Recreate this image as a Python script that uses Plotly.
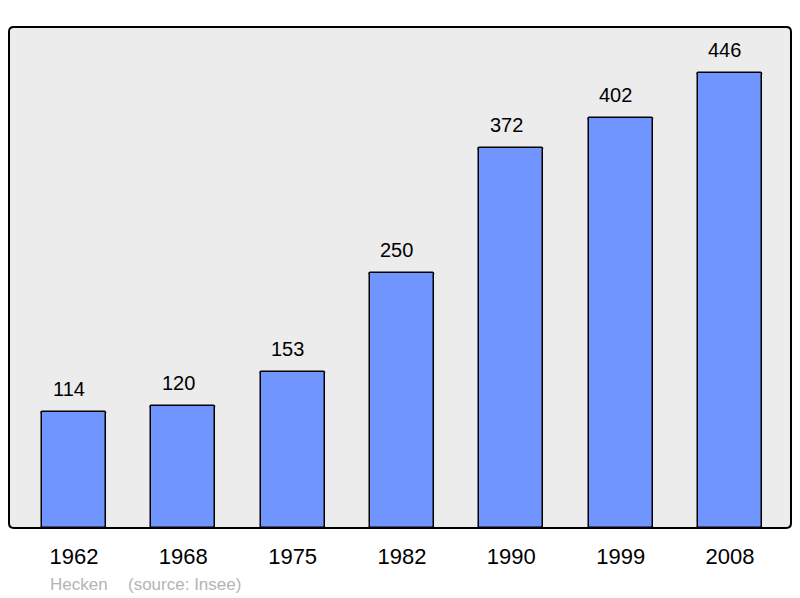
import plotly.graph_objects as go

years = ["1962", "1968", "1975", "1982", "1990", "1999", "2008"]
population = [114, 120, 153, 250, 372, 402, 446]
commune = "Hecken"
source = "(source: Insee)"

FONT = "Liberation Sans, Arial"

fig = go.Figure()
fig.add_trace(go.Bar(
    x=years, y=population, width=0.585,
    marker=dict(color="#7095ff", line=dict(color="#000000", width=1.5), cornerradius=2),
    hoverinfo="skip",
))

for i, v in enumerate(population):
    fig.add_annotation(x=i, y=v, text=str(v), showarrow=False, yshift=23, xshift=-5,
                       font=dict(family=FONT, size=20, color="#000"))

fig.add_annotation(xref="paper", yref="paper", x=0.0505, y=-0.112, xanchor="left", yanchor="middle",
                   text=commune, showarrow=False,
                   font=dict(family=FONT, size=17, color="#b4b4b4"))
fig.add_annotation(xref="paper", yref="paper", x=0.150, y=-0.112, xanchor="left", yanchor="middle",
                   text=source, showarrow=False,
                   font=dict(family=FONT, size=17, color="#b4b4b4"))

# rounded frame
r = 0.006
fig.add_shape(type="path", xref="paper", yref="paper",
              path=f"M {r},0 L {1-r},0 Q 1,0 1,{r*1.56} L 1,{1-r*1.56} Q 1,1 {1-r},1 L {r},1 Q 0,1 0,{1-r*1.56} L 0,{r*1.56} Q 0,0 {r},0 Z",
              line=dict(color="#000", width=2), layer="above")

fig.update_layout(
    width=800, height=598,
    margin=dict(l=9, r=9, t=27, b=70),
    paper_bgcolor="#ffffff", plot_bgcolor="#ececec",
    showlegend=False,
    bargap=0,
    xaxis=dict(type="category", range=[-0.594, 6.558], showgrid=False, zeroline=False, showline=False,
               ticks="", tickfont=dict(family=FONT, size=22, color="#000"),
               ticklabelstandoff=13),
    yaxis=dict(range=[0, 491], showgrid=False, zeroline=False, showline=False,
               showticklabels=False, ticks=""),
)

fig.write_html("out.html", config={"displayModeBar": False},
               post_script="document.body.style.margin='0';document.body.style.overflow='hidden';")
